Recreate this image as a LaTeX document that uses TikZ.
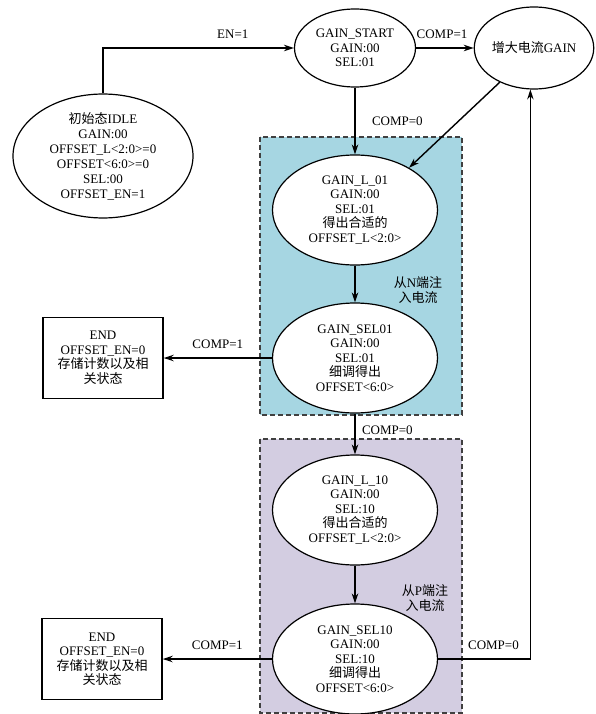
\documentclass[tikz,border=0pt]{standalone}
\usepackage{fontspec}
\setmainfont{Liberation Serif}
\newfontfamily\cjk{Noto Sans CJK SC}
\usepackage{tikz}
\usetikzlibrary{shapes.geometric, arrows.meta}
\definecolor{nside}{RGB}{166,214,226}
\definecolor{pside}{RGB}{211,205,225}
\tikzstyle{state} = [ellipse, draw=black, fill=white, line width=1.2pt, minimum width=165pt, minimum height=110pt, inner sep=0pt, align=center]
\tikzstyle{endbox} = [rectangle, draw=black, fill=white, line width=1.4pt, minimum width=120pt, minimum height=81pt, inner sep=0pt, align=center]
\tikzstyle{region} = [draw=black!75, line width=1.2pt, dash pattern=on 5pt off 3pt]
\tikzstyle{arrow} = [line width=1.4pt,->,>={Stealth[length=10pt,width=6.5pt]}]
\begin{document}
\begin{tikzpicture}[x=1pt, y=1pt, node distance=150pt, font=\fontsize{13}{14.5}\selectfont]
\useasboundingbox (0,0) rectangle (595,-714);
\draw [region, fill=nside] (260,-137) rectangle (462,-415);
\draw [region, fill=pside] (260,-439) rectangle (462,-713);

\node (start) [state, minimum width=121pt, minimum height=78pt] at (355,-48) {GAIN\_START\\GAIN:00\\SEL:01};
\node (gainup) [state, minimum width=119pt, minimum height=82pt, right of=start, xshift=29pt] {{\cjk 增大电流}GAIN};
\node (idle) [state, minimum width=180pt, minimum height=122pt, left of=start, xshift=-102pt, yshift=-108pt, font=\fontsize{13}{15}\selectfont] {{\cjk 初始态}IDLE\\GAIN:00\\OFFSET\_L<2:0>=0\\OFFSET<6:0>=0\\SEL:00\\OFFSET\_EN=1};

\node (gainl01) [state, below of=start, yshift=-12pt] {GAIN\_L\_01\\GAIN:00\\SEL:01\\{\cjk 得出合适的}\\OFFSET\_L<2:0>};
\node (gainsel01) [state, below of=gainl01, yshift=2pt] {GAIN\_SEL01\\GAIN:00\\SEL:01\\{\cjk 细调得出}\\OFFSET<6:0>};
\node (nlabel) [align=center] at (418,-290) {{\cjk 从}N{\cjk 端注}\\{\cjk 入电流}};
\node (end1) [endbox, left of=gainsel01, xshift=-102pt] {END\\OFFSET\_EN=0\\{\cjk 存储计数以及相}\\{\cjk 关状态}};

\node (gainl10) [state, below of=gainsel01, yshift=-2pt] {GAIN\_L\_10\\GAIN:00\\SEL:10\\{\cjk 得出合适的}\\OFFSET\_L<2:0>};
\node (gainsel10) [state, below of=gainl10, yshift=1pt] {GAIN\_SEL10\\GAIN:00\\SEL:10\\{\cjk 细调得出}\\OFFSET<6:0>};
\node (plabel) [align=center] at (425,-598) {{\cjk 从}P{\cjk 端注}\\{\cjk 入电流}};
\node (end2) [endbox, left of=gainsel10, xshift=-103pt] {END\\OFFSET\_EN=0\\{\cjk 存储计数以及相}\\{\cjk 关状态}};

\draw [arrow] (idle.north) |- node[pos=0.84, above=5pt] {EN=1} (start.west);
\draw [arrow] (start) -- node[pos=0.45, above=5pt] {COMP=1} (gainup);
\draw [arrow] (start) -- node[pos=0.5, right=13pt] {COMP=0} (gainl01);
\draw [arrow] (gainup.225) -- (gainl01.38);
\draw [arrow] (gainl01) -- (gainsel01);
\draw [arrow] (gainsel01) -- node[pos=0.5, above=5pt] {COMP=1} (end1);
\draw [arrow] (gainsel01) -- node[pos=0.4, right=3pt] {COMP=0} (gainl10);
\draw [arrow] (gainl10) -- (gainsel10);
\draw [arrow] (gainsel10) -- node[pos=0.5, above=5pt] {COMP=1} (end2);
\draw [arrow] (gainsel10.east) -| node[pos=0.3, above=5pt] {COMP=0} (gainup.265);
\end{tikzpicture}
\end{document}
